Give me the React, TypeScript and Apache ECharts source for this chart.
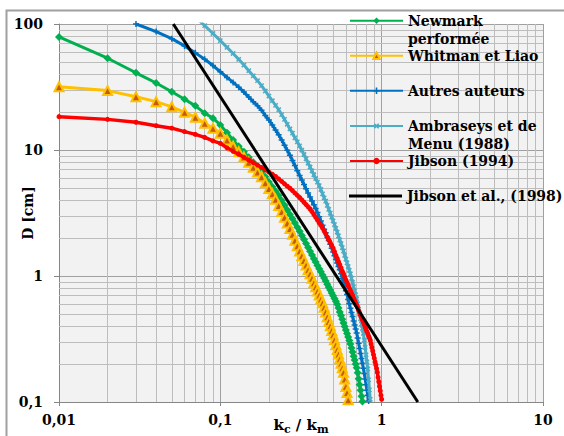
import React, { useEffect, useRef } from "react";
import * as echarts from "echarts";

// kc/km steps used by the curves (0.01 .. 1.00)
const kSteps = [
  0.01, 0.02, 0.03, 0.04, 0.05, 0.06, 0.07, 0.08, 0.09, 0.1,
  0.11, 0.12, 0.13, 0.14, 0.15, 0.16, 0.17, 0.18, 0.19, 0.2,
  0.21, 0.22, 0.23, 0.24, 0.25, 0.26, 0.27, 0.28, 0.29, 0.3,
  0.31, 0.32, 0.33, 0.34, 0.35, 0.36, 0.37, 0.38, 0.39, 0.4,
  0.41, 0.42, 0.43, 0.44, 0.45, 0.46, 0.47, 0.48, 0.49, 0.5,
  0.51, 0.52, 0.53, 0.54, 0.55, 0.56, 0.57, 0.58, 0.59, 0.6,
  0.61, 0.62, 0.63, 0.64, 0.65, 0.66, 0.67, 0.68, 0.69, 0.7,
  0.71, 0.72, 0.73, 0.74, 0.75, 0.76, 0.77, 0.78, 0.79, 0.8,
  0.81, 0.82, 0.83, 0.84, 0.85, 0.86, 0.87, 0.88, 0.89, 0.9,
  0.91, 0.92, 0.93, 0.94, 0.95, 0.96, 0.97, 0.98, 0.99, 1.0,
];

// D [cm] values, starting at kSteps[start]
const newmarkStart = 0;
const newmarkD = [
  79, 53.5, 41, 34, 29, 25.3, 22.4, 19.6, 17.9, 15.8,
  13.7, 12.0, 10.7, 9.69, 8.77, 7.99, 7.32, 6.7, 6.12, 5.57,
  5.12, 4.71, 4.36, 3.98, 3.64, 3.34, 3.07, 2.85, 2.63, 2.44,
  2.27, 2.1, 1.95, 1.81, 1.68, 1.57, 1.47, 1.37, 1.29, 1.21,
  1.14, 1.08, 1.02, 0.964, 0.913, 0.861, 0.815, 0.774, 0.733, 0.697,
  0.662, 0.629, 0.596, 0.557, 0.519, 0.486, 0.453, 0.424, 0.397, 0.372,
  0.35, 0.328, 0.308, 0.289, 0.268, 0.249, 0.231, 0.215, 0.2, 0.187,
  0.171, 0.153, 0.137, 0.124, 0.111, 0.101,
];

const whitmanStart = 0;
const whitmanD = [
  31.8, 29.6, 26.5, 24.2, 22.0, 19.9, 18.2, 16.3, 14.9, 13.6,
  12.0, 10.7, 9.68, 8.8, 7.99, 7.29, 6.69, 6.14, 5.5, 4.95,
  4.49, 4.06, 3.62, 3.25, 2.93, 2.64, 2.38, 2.14, 1.92, 1.74,
  1.58, 1.45, 1.33, 1.22, 1.12, 1.04, 0.961, 0.885, 0.82, 0.759,
  0.707, 0.657, 0.612, 0.565, 0.519, 0.474, 0.436, 0.402, 0.37, 0.341,
  0.312, 0.285, 0.261, 0.24, 0.22, 0.203, 0.187, 0.172, 0.152, 0.133,
  0.119, 0.104,
];

const autresStart = 2;
const autresD = [
  100, 87, 76.5, 67, 59, 52.5, 46.8, 41.8,
  37.7, 34.4, 31.5, 28.8, 26.3, 24.2, 22.5, 20.7, 18.8, 17.3,
  15.8, 14.4, 13.2, 12.0, 10.9, 9.94, 9.09, 8.27, 7.52, 6.85,
  6.28, 5.77, 5.33, 4.92, 4.55, 4.23, 3.94, 3.67, 3.43, 3.19,
  2.95, 2.73, 2.53, 2.35, 2.2, 2.04, 1.91, 1.79, 1.66, 1.55,
  1.45, 1.35, 1.27, 1.19, 1.12, 1.04, 0.957, 0.888, 0.824, 0.765,
  0.712, 0.652, 0.602, 0.555, 0.513, 0.476, 0.44, 0.409, 0.38, 0.353,
  0.322, 0.293, 0.266, 0.243, 0.221, 0.203, 0.185, 0.168, 0.152, 0.137,
  0.124, 0.113, 0.102,
];

const ambraseysStart = 6;
const ambraseysD = [
  114, 97, 84.1, 73.8,
  65.2, 58.3, 52.4, 47.2, 42.6, 38.8, 35.5, 32.4, 29.4, 26.8,
  24.6, 22.6, 20.9, 19.1, 17.5, 16.0, 14.7, 13.6, 12.5, 11.6,
  10.8, 9.96, 9.21, 8.52, 7.87, 7.33, 6.83, 6.36, 5.94, 5.55,
  5.21, 4.86, 4.49, 4.17, 3.93, 3.64, 3.38, 3.16, 2.93, 2.74,
  2.56, 2.39, 2.23, 2.08, 1.93, 1.81, 1.68, 1.58, 1.46, 1.36,
  1.27, 1.19, 1.11, 1.04, 0.957, 0.89, 0.821, 0.763, 0.709, 0.659,
  0.601, 0.546, 0.498, 0.458, 0.416, 0.383, 0.351, 0.309, 0.271, 0.237,
  0.208, 0.183, 0.15, 0.125, 0.105,
];

const jibson94Start = 0;
const jibson94D = [
  18.4, 17.5, 16.6, 15.6, 14.9, 14.0, 13.3, 12.6, 11.8, 11.3,
  10.4, 9.76, 9.25, 8.77, 8.33, 7.93, 7.59, 7.26, 6.95, 6.68,
  6.43, 6.17, 5.89, 5.63, 5.39, 5.16, 4.97, 4.76, 4.55, 4.37,
  4.2, 4.02, 3.85, 3.69, 3.54, 3.4, 3.24, 3.07, 2.92, 2.78,
  2.64, 2.52, 2.4, 2.28, 2.16, 2.04, 1.93, 1.84, 1.75, 1.66,
  1.56, 1.46, 1.38, 1.3, 1.23, 1.16, 1.09, 1.04, 0.984, 0.933,
  0.89, 0.844, 0.804, 0.767, 0.731, 0.7, 0.667, 0.639, 0.612, 0.586,
  0.56, 0.534, 0.509, 0.488, 0.466, 0.447, 0.429, 0.411, 0.394, 0.378,
  0.362, 0.349, 0.334, 0.322, 0.309, 0.289, 0.271, 0.254, 0.238, 0.223,
  0.208, 0.197, 0.185, 0.172, 0.157, 0.145, 0.133, 0.123, 0.113, 0.105,
];

const jibson98K = [0.0511, 1.675];
const jibson98D = [100, 0.1];

const xMinor = [0.02, 0.03, 0.04, 0.05, 0.06, 0.07, 0.08, 0.09, 0.2, 0.3, 0.4, 0.5, 0.6, 0.7, 0.8, 0.9, 2, 3, 4, 5, 6, 7, 8, 9];
const yMinor = [0.2, 0.3, 0.4, 0.5, 0.6, 0.7, 0.8, 0.9, 2, 3, 4, 5, 6, 7, 8, 9, 20, 30, 40, 50, 60, 70, 80, 90];

const seriesNames = [
  "Newmark performée",
  "Whitman et Liao",
  "Autres auteurs",
  "Ambraseys et de Menu (1988)",
  "Jibson (1994)",
  "Jibson et al., (1998)",
];
const legendLabels = [
  "Newmark\nperformée",
  "Whitman et Liao",
  "Autres auteurs",
  "Ambraseys et de\nMenu (1988)",
  "Jibson (1994)",
  "Jibson et al., (1998)",
];

const FONT = "'DejaVu Serif', serif";

function pairs(start: number, values: number[]) {
  return values.map((v, i) => [kSteps[start + i], v]);
}

function fmt(v: number) {
  const n = +Number(v).toPrecision(4);
  return String(n).replace(".", ",");
}

const CROSS = "path://M3,0H5V3H8V5H5V8H3V5H0V3H3Z";

export default function App() {
  const ref = useRef<HTMLDivElement>(null);
  useEffect(() => {
    const chart = echarts.init(ref.current!, null, { renderer: "svg" });

    const legendCenters = [20.7, 55.7, 90.7, 126, 161, 196];
    const legends = seriesNames.map((name, i) => {
      const two = legendLabels[i].includes("\n");
      const noMarker = i === 5;
      // a leading empty line keeps the first text line level with the symbol
      const label = two ? "\n" + legendLabels[i] : legendLabels[i];
      return {
        data: noMarker ? [{ name, icon: "rect" }] : [name],
        left: 349,
        top: legendCenters[i] - (two ? 27 : 9),
        padding: 0,
        itemWidth: 53,
        itemHeight: noMarker ? 3 : 8,
        selectedMode: false,
        formatter: () => label,
        textStyle: {
          fontFamily: FONT,
          fontWeight: "bold",
          fontSize: 14,
          color: "#000",
          lineHeight: 18,
        },
      };
    });

    const axisLabelStyle = {
      fontFamily: FONT,
      fontWeight: "bold",
      fontSize: 14,
      color: "#000",
    };

    const option: any = {
      animation: false,
      backgroundColor: "#ffffff",
      graphic: [
        {
          type: "rect",
          silent: true,
          shape: { x: 6.5, y: 10.5, width: 800, height: 800 },
          style: { fill: "none", stroke: "#a0a0a0", lineWidth: 2 },
        },
      ],
      legend: legends,
      grid: {
        left: 59,
        top: 24,
        right: 21,
        bottom: 34,
        show: true,
        backgroundColor: "#f2f2f2",
        borderWidth: 0,
        containLabel: false,
        outerBoundsMode: "none",
      },
      xAxis: {
        type: "log",
        logBase: 10,
        min: 0.01,
        max: 10,
        name: "{k|k}{s|c}{k| / k}{s|m}",
        nameLocation: "middle",
        nameGap: 13,
        nameMoveOverlap: false,
        nameTextStyle: {
          rich: {
            k: { fontFamily: FONT, fontWeight: "bold", fontSize: 15, color: "#000", lineHeight: 20 },
            s: { fontFamily: FONT, fontWeight: "bold", fontSize: 11, color: "#000", lineHeight: 11, verticalAlign: "bottom" },
          },
        },
        axisLine: { show: true, lineStyle: { color: "#868686", width: 1 } },
        axisTick: { show: true, length: 4, lineStyle: { color: "#868686" } },
        axisLabel: { ...axisLabelStyle, margin: 11, formatter: (v: number) => fmt(v) },
        splitLine: { show: true, lineStyle: { color: "#a0a0a0", width: 1 } },
        minorTick: { show: false },
      },
      yAxis: {
        type: "log",
        logBase: 10,
        min: 0.1,
        max: 100,
        name: "D [cm]",
        nameLocation: "middle",
        nameGap: 24,
        nameMoveOverlap: false,
        nameTextStyle: { fontFamily: FONT, fontWeight: "bold", fontSize: 14, color: "#000" },
        axisLine: { show: true, lineStyle: { color: "#868686", width: 1 } },
        axisTick: { show: true, length: 5, lineStyle: { color: "#868686" } },
        axisLabel: { ...axisLabelStyle, margin: 16, formatter: (v: number) => fmt(v) },
        splitLine: { show: true, lineStyle: { color: "#a0a0a0", width: 1 } },
      },
      series: [
        {
          type: "line",
          name: "__grid",
          data: [[0.01, 0.1]],
          symbol: "none",
          lineStyle: { opacity: 0 },
          silent: true,
          z: 1,
          markLine: {
            silent: true,
            z: 1,
            symbol: ["none", "none"],
            label: { show: false },
            lineStyle: { color: "#bdbdbd", width: 1, type: "solid" },
            emphasis: { disabled: true },
            data: [
              ...xMinor.map((v) => ({ xAxis: v })),
              ...yMinor.map((v) => ({ yAxis: v })),
            ],
          },
        },
        {
          type: "line",
          name: seriesNames[0],
          data: pairs(newmarkStart, newmarkD),
          symbol: "diamond",
          symbolSize: 8,
          lineStyle: { color: "#00b050", width: 3 },
          itemStyle: { color: "#00b050" },
          z: 2,
        },
        {
          type: "line",
          name: seriesNames[1],
          data: pairs(whitmanStart, whitmanD),
          symbol: "triangle",
          symbolSize: 9,
          lineStyle: { color: "#ffc000", width: 3 },
          itemStyle: { color: "#c55a11", borderColor: "#ffc000", borderWidth: 2 },
          z: 3,
        },
        {
          type: "line",
          name: seriesNames[2],
          data: pairs(autresStart, autresD),
          symbol: CROSS,
          symbolSize: 6,
          lineStyle: { color: "#0070c0", width: 3 },
          itemStyle: { color: "#0070c0" },
          z: 4,
        },
        {
          type: "line",
          name: seriesNames[3],
          data: pairs(ambraseysStart, ambraseysD),
          symbol: CROSS,
          symbolSize: 6,
          symbolRotate: 45,
          lineStyle: { color: "#4bacc6", width: 3 },
          itemStyle: { color: "#4bacc6" },
          z: 5,
        },
        {
          type: "line",
          name: seriesNames[4],
          data: pairs(jibson94Start, jibson94D),
          symbol: "circle",
          symbolSize: 5,
          lineStyle: { color: "#ff0000", width: 3.5 },
          itemStyle: { color: "#ff0000" },
          z: 6,
        },
        {
          type: "line",
          name: seriesNames[5],
          data: jibson98K.map((k, i) => [k, jibson98D[i]]),
          symbol: "none",
          showSymbol: false,
          lineStyle: { color: "#000000", width: 3 },
          itemStyle: { color: "#000000" },
          z: 7,
        },
      ],
    };

    chart.setOption(option);
    return () => chart.dispose();
  }, []);

  return (
    <div
      ref={ref}
      style={{ position: "fixed", left: 0, top: 0, width: 564, height: 436, background: "#fff" }}
    />
  );
}
